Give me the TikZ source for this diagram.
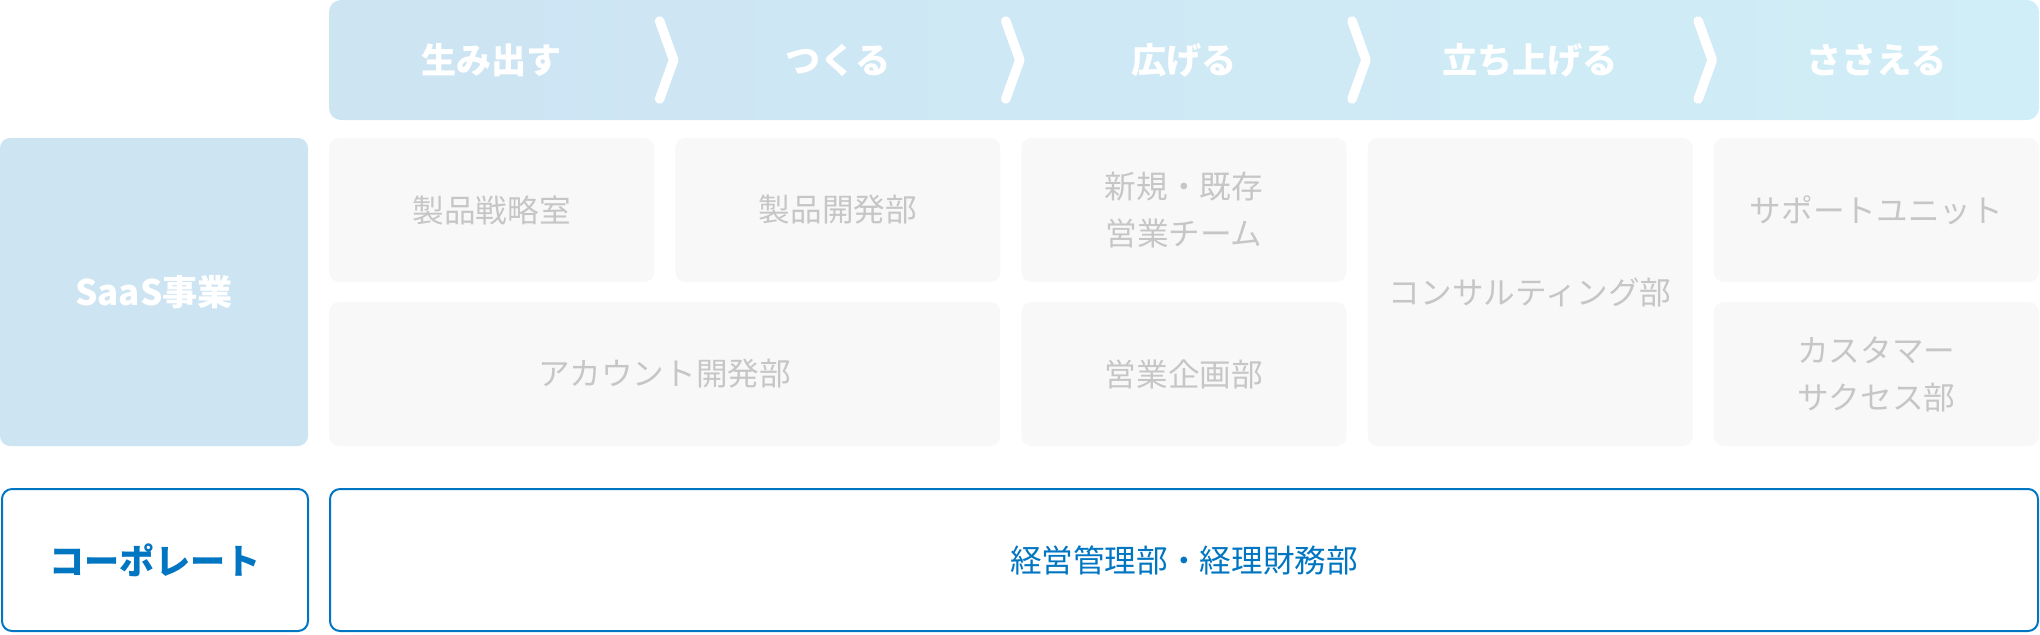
\documentclass[tikz,border=0pt]{standalone}
\usepackage{fontspec}
\newfontfamily\cjk{Noto Sans CJK JP}
\usetikzlibrary{positioning}
\definecolor{barleft}{RGB}{205,228,243}
\definecolor{barright}{RGB}{208,238,247}
\definecolor{saasblue}{RGB}{205,228,243}
\definecolor{deptfill}{RGB}{248,248,248}
\definecolor{depttext}{RGB}{198,198,198}
\definecolor{corpblue}{RGB}{0,117,193}
\tikzset{
    every node/.style={
        inner sep=0pt,
        outer sep=0pt,
        align=center
    },
    stagebar/.style={
        rounded corners=1.2mm,
        left color=barleft,
        right color=barright,
        minimum width=171mm,
        minimum height=12mm
    },
    stage/.style={
        text=white,
        font=\cjk\bfseries\fontsize{10}{12}\selectfont
    },
    chevron/.style={
        draw=white,
        line width=0.95mm,
        line cap=round,
        line join=round
    },
    dept/.style={
        shape=rectangle,
        rounded corners=1mm,
        fill=deptfill,
        text=depttext,
        minimum width=32.52mm,
        minimum height=14.4mm,
        font=\cjk\fontsize{9}{13.4}\selectfont
    },
    group/.style={
        shape=rectangle,
        rounded corners=1mm,
        font=\cjk\bfseries\fontsize{10}{12}\selectfont
    },
    corpbox/.style={
        shape=rectangle,
        rounded corners=1mm,
        draw=corpblue,
        line width=0.2mm,
        fill=white,
        text=corpblue,
        minimum height=14.2mm
    }
}

\begin{document}
\begin{tikzpicture}[x=0.1mm, y=-0.1mm]
    \useasboundingbox (0,0) rectangle (2040,634);
    % Stages
    \node (bar) at (1184,60) [stagebar] {};
    \node (s1) at (491.6,60) [stage] {生み出す};
    \node (s2) at (837.8,60) [stage] {つくる};
    \node (s3) at (1184,60) [stage] {広げる};
    \node (s4) at (1530.2,60) [stage] {立ち上げる};
    \node (s5) at (1876.4,60) [stage] {ささえる};
    \foreach \x in {664.6,1010.8,1357,1703.2}
        \draw [chevron] (\x-5,21) -- (\x+9,60) -- (\x-5,99);
    % SaaS
    \node (saas) at (154,292) [group, fill=saasblue, text=white, minimum width=30.8mm, minimum height=30.8mm] {SaaS事業};
    \node (d1) at (491.6,210) [dept] {製品戦略室};
    \node (d2) at (837.8,210) [dept] {製品開発部};
    \node (d3) at (1184,210) [dept] {新規・既存\\営業チーム};
    \node (d4) at (1530.2,292) [dept, minimum height=30.8mm] {コンサルティング部};
    \node (d5) at (1876.4,210) [dept] {サポートユニット};
    \node (d6) at (664.6,374) [dept, minimum width=67.12mm] {アカウント開発部};
    \node (d7) at (1184,374) [dept] {営業企画部};
    \node (d8) at (1876.4,374) [dept] {カスタマー\\サクセス部};
    % Corporate
    \node (corp) at (155,560) [group, corpbox, minimum width=30.6mm] {コーポレート};
    \node (admin) at (1184,560) [corpbox, minimum width=170.8mm, font=\cjk\fontsize{9}{12}\selectfont] {経営管理部・経理財務部};
\end{tikzpicture}
\end{document}
